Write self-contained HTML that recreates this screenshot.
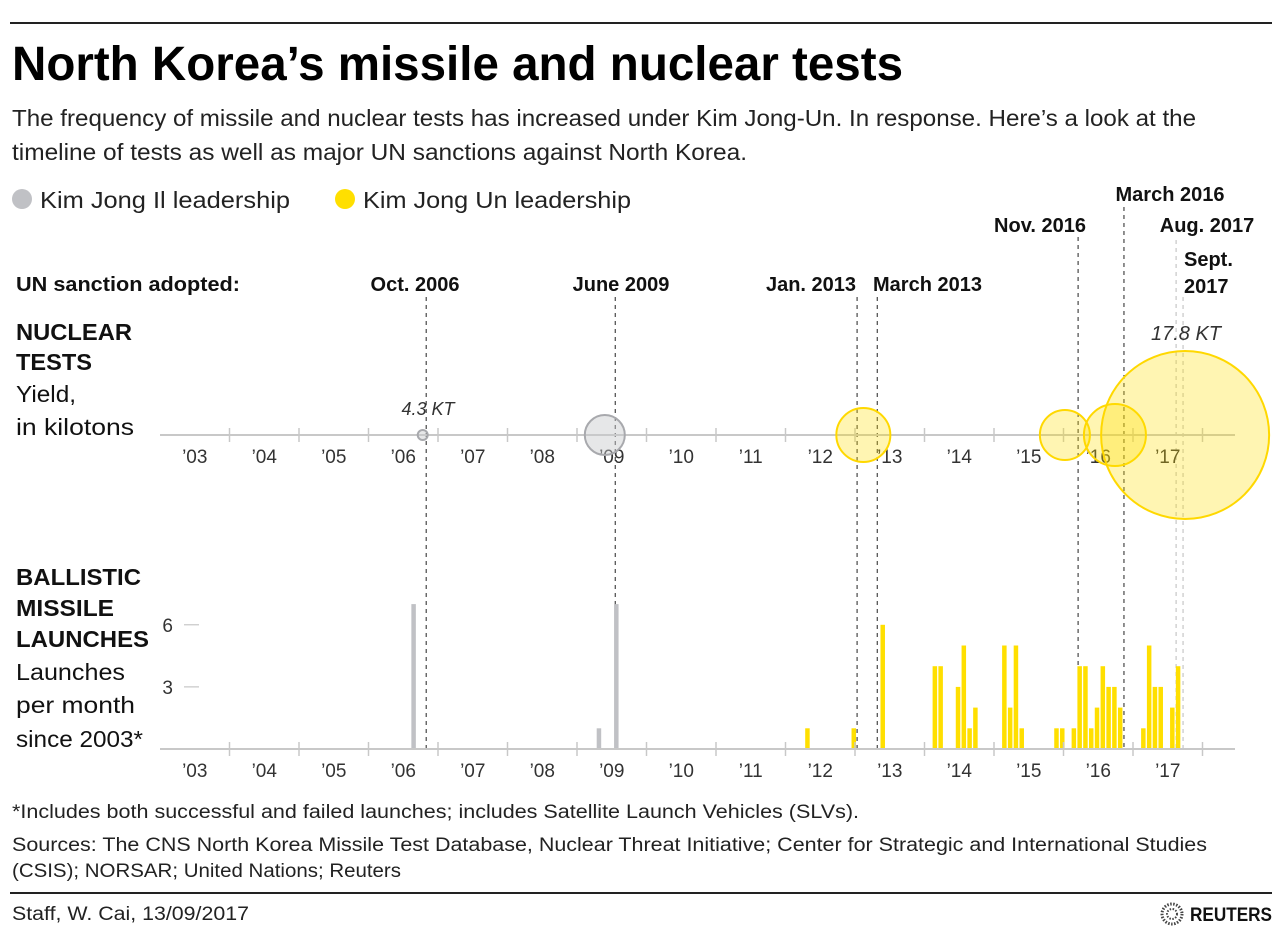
<!DOCTYPE html>
<html><head><meta charset="utf-8"><style>
html,body{margin:0;padding:0;background:#fff}
svg{display:block}
text{font-family:"Liberation Sans",sans-serif}
</style></head><body>
<svg id="chart" width="1288" height="934" viewBox="0 0 1288 934" xmlns="http://www.w3.org/2000/svg">
<line x1="10" y1="23" x2="1272" y2="23" stroke="#222" stroke-width="2"/>
<text x="12" y="80" font-size="48" font-weight="bold" fill="#000" textLength="891" lengthAdjust="spacingAndGlyphs">North Korea’s missile and nuclear tests</text>
<text x="12" y="126" font-size="23" fill="#222" textLength="1184" lengthAdjust="spacingAndGlyphs">The frequency of missile and nuclear tests has increased under Kim Jong-Un. In response. Here’s a look at the</text>
<text x="12" y="160" font-size="23" fill="#222" textLength="735" lengthAdjust="spacingAndGlyphs">timeline of tests as well as major UN sanctions  against North Korea.</text>
<g>
<circle cx="22" cy="199" r="10" fill="#c0c1c5"/>
<text x="40" y="208" font-size="23" fill="#222" textLength="250" lengthAdjust="spacingAndGlyphs">Kim Jong Il leadership</text>
<circle cx="345" cy="199" r="10" fill="#ffdf00"/>
<text x="363" y="208" font-size="23" fill="#222" textLength="268" lengthAdjust="spacingAndGlyphs">Kim Jong Un leadership</text>
</g>
<text x="16" y="291" font-size="20" font-weight="bold" fill="#111" textLength="224" lengthAdjust="spacingAndGlyphs">UN sanction adopted:</text>
<g font-size="23" fill="#111">
<text x="16" y="340" font-weight="bold" textLength="116" lengthAdjust="spacingAndGlyphs">NUCLEAR</text>
<text x="16" y="370" font-weight="bold" textLength="76" lengthAdjust="spacingAndGlyphs">TESTS</text>
<text x="16" y="402" textLength="60" lengthAdjust="spacingAndGlyphs">Yield,</text>
<text x="16" y="435" textLength="118" lengthAdjust="spacingAndGlyphs">in kilotons</text>
<text x="16" y="585" font-weight="bold" textLength="125" lengthAdjust="spacingAndGlyphs">BALLISTIC</text>
<text x="16" y="616" font-weight="bold" textLength="98" lengthAdjust="spacingAndGlyphs">MISSILE</text>
<text x="16" y="647" font-weight="bold" textLength="133" lengthAdjust="spacingAndGlyphs">LAUNCHES</text>
<text x="16" y="680" textLength="109" lengthAdjust="spacingAndGlyphs">Launches</text>
<text x="16" y="713" textLength="119" lengthAdjust="spacingAndGlyphs">per month</text>
<text x="16" y="747" textLength="127" lengthAdjust="spacingAndGlyphs">since 2003*</text>
</g>
<g id="sanctions"></g>
<g id="nuclear"></g>
<g id="missiles"></g>
<g font-size="19" fill="#222">
<text x="12" y="818" textLength="847" lengthAdjust="spacingAndGlyphs">*Includes both successful and failed launches; includes Satellite Launch Vehicles (SLVs).</text>
<text x="12" y="851" textLength="1195" lengthAdjust="spacingAndGlyphs">Sources: The CNS North Korea Missile Test Database, Nuclear Threat Initiative; Center for Strategic and International Studies</text>
<text x="12" y="877" textLength="389" lengthAdjust="spacingAndGlyphs">(CSIS); NORSAR; United Nations; Reuters</text>
</g>
<line x1="10" y1="893" x2="1272" y2="893" stroke="#222" stroke-width="2"/>
<text x="12" y="920" font-size="19" fill="#222" textLength="237" lengthAdjust="spacingAndGlyphs">Staff, W. Cai,  13/09/2017</text>
<g>
<circle cx="1172" cy="914" r="10" fill="none" stroke="#444" stroke-width="3" stroke-dasharray="1.5 1.5"/>
<circle cx="1172" cy="914" r="5" fill="none" stroke="#444" stroke-width="2" stroke-dasharray="1.5 1.5"/>
<text x="1190" y="921" font-size="19" font-weight="bold" fill="#111" textLength="82" lengthAdjust="spacingAndGlyphs">REUTERS</text>
</g>
</svg>
<script>
// ---- data ----
const years = ["’03","’04","’05","’06","’07","’08","’09","’10","’11","’12","’13","’14","’15","’16","’17"];
const nukeDates = [2006.78, 2009.40, 2013.12, 2016.02, 2016.74, 2017.75];
const nukeRadii = [5, 20, 27, 25, 31, 84];
const nukeLeader = ["il","il","un","un","un","un"];
const launchYears  = [2006,2009,2009,2012,2012,2013,2014,2014,2014,2014,2014,2014,2015,2015,2015,2015,2015,2015,2016,2016,2016,2016,2016,2016,2016,2016,2016,2017,2017,2017,2017,2017,2017];
const launchMonths = [8,4,7,4,12,5,2,3,6,7,8,9,2,3,4,5,11,12,2,3,4,5,6,7,8,9,10,2,3,4,5,7,8];
const launchCounts = [7,1,7,1,1,6,4,4,3,5,1,2,5,2,5,1,1,1,1,4,4,1,2,4,3,3,2,1,5,3,3,2,4];
const yTicks = [3,6];
const sanctionLabels = ["Oct. 2006","June 2009","Jan. 2013","March 2013","Nov. 2016","March 2016","Aug. 2017","Sept. 2017"];
const sanctionDates = [2006.83, 2009.55, 2013.03, 2013.32, 2016.21, 2016.87, 2017.62, 2017.72];

// ---- scales ----
const X0 = 160, PX_YEAR = 69.5;
const x = t => X0 + (t - 2003) * PX_YEAR;
const monthX = (yr, m) => x(yr + (m - 1 + 0.4) / 12);
const BASE = 749, UNIT = 20.7;
const y = v => BASE - v * UNIT;
const NS = "http://www.w3.org/2000/svg";
function mk(tag, attrs, parent) { const e = document.createElementNS(NS, tag); for (const k in attrs) e.setAttribute(k, attrs[k]); parent.appendChild(e); return e; }

function axis(g, ay, name) {
  const ln = mk("line", {x1: X0, y1: ay, x2: 1235, y2: ay, stroke: "#c8c8c8", "stroke-width": 2}, g);
  
  
  years.forEach((lab, i) => {
    if (i > 0) {
      const t = mk("line", {x1: x(2003 + i), y1: ay - 7, x2: x(2003 + i), y2: ay + 7, stroke: "#c8c8c8", "stroke-width": 1.5}, g);
      
      
    }
    const tx = mk("text", {x: x(2003.5 + i), y: ay + 28, "font-size": 19, fill: "#333", "text-anchor": "middle"}, g);
    tx.textContent = lab;
    
    
  });
  const end = mk("line", {x1: x(2018), y1: ay - 7, x2: x(2018), y2: ay + 7, stroke: "#c8c8c8", "stroke-width": 1.5}, g);
  
  
}

// sanctions
const sg = document.getElementById("sanctions");


const labelPos = [[415,291,"middle"],[621,291,"middle"],[811,291,"middle"],[873,291,"start"],[1040,232,"middle"],[1170,201,"middle"],[1207,232,"middle"],[1184,266,"start"]];
const lineTop = [297,297,297,297,237,207,240,297];
sanctionLabels.forEach((lab, i) => {
  const light = i >= 6;
  const l = mk("line", {x1: x(sanctionDates[i]), y1: lineTop[i], x2: x(sanctionDates[i]), y2: BASE, stroke: light ? "#bbb" : "#222", "stroke-width": 1, "stroke-dasharray": "4 4"}, sg);
  
  
  const p = labelPos[i];
  const t = mk("text", {x: p[0], y: p[1], "font-size": 20, "font-weight": "bold", fill: "#111", "text-anchor": p[2]}, sg);
  if (lab === "Sept. 2017") {
    t.textContent = "Sept.";
    const t2 = mk("text", {x: p[0], y: p[1] + 27, "font-size": 20, "font-weight": "bold", fill: "#111"}, sg);
    t2.textContent = "2017";
    
    
  } else t.textContent = lab;
  
  
});

// nuclear
const ng = document.getElementById("nuclear");


axis(ng, 435, "nuclear-axis");
nukeDates.forEach((d, i) => {
  const il = nukeLeader[i] === "il";
  const c = mk("circle", {cx: x(d), cy: 435, r: nukeRadii[i], fill: il ? "rgba(200,201,205,0.45)" : "rgba(255,223,0,0.3)", stroke: il ? "#a8a9ad" : "#ffd800", "stroke-width": 2}, ng);
  
  
});
const k1 = mk("text", {x: 428, y: 415, "font-size": 18, "font-style": "italic", fill: "#333", "text-anchor": "middle"}, ng);
k1.textContent = "4.3 KT";


const k2 = mk("text", {x: 1186, y: 340, "font-size": 20, "font-style": "italic", fill: "#333", "text-anchor": "middle"}, ng);
k2.textContent = "17.8 KT";



// missiles
const mg = document.getElementById("missiles");


yTicks.forEach(v => {
  const tl = mk("line", {x1: 184, y1: y(v), x2: 199, y2: y(v), stroke: "#bbb", "stroke-width": 1}, mg);
  
  
  const tt = mk("text", {x: 173, y: y(v) + 7, "font-size": 19, fill: "#333", "text-anchor": "end"}, mg);
  tt.textContent = v;
  
  
});
launchCounts.forEach((v, i) => {
  const yr = launchYears[i];
  const b = mk("rect", {x: monthX(yr, launchMonths[i]), y: y(v), width: 4.5, height: v * UNIT, fill: yr < 2012 ? "#c0c1c5" : "#ffdf00"}, mg);
  
  
});
axis(mg, BASE, "missile-axis");
</script>
</body></html>
